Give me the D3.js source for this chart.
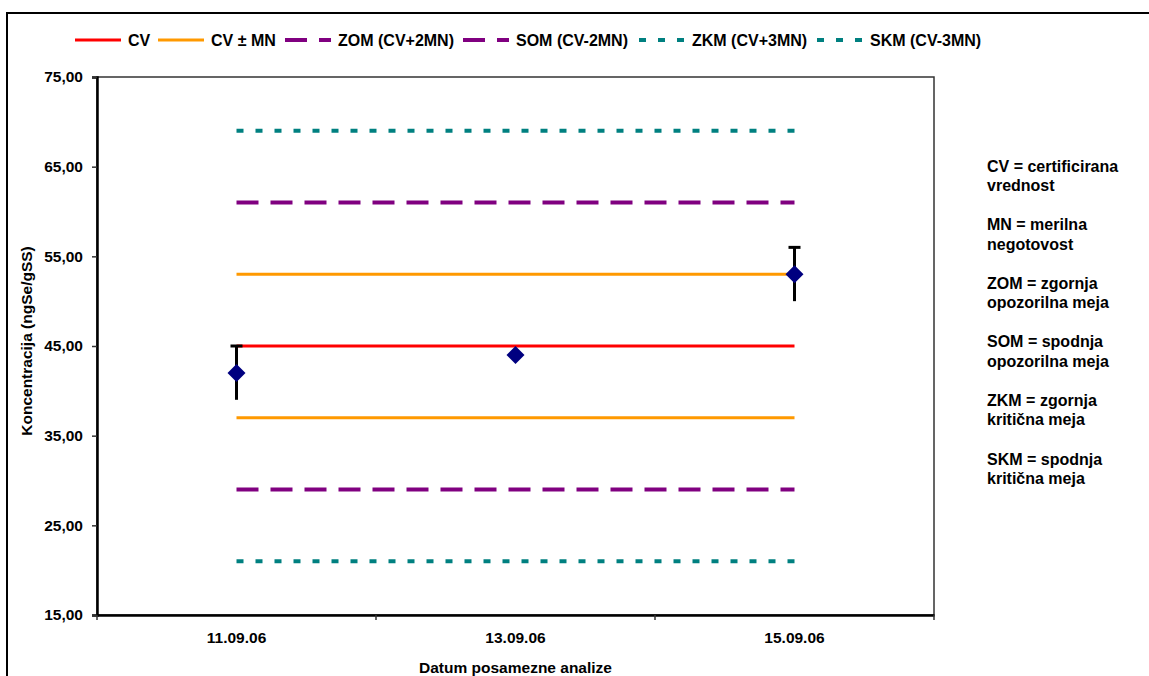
<!DOCTYPE html>
<html>
<head>
<meta charset="utf-8">
<script src="https://cdn.jsdelivr.net/npm/d3@7"></script>
<style>
  body { margin: 0; background: #fff; }
  text { font-family: "Liberation Sans", Arial, sans-serif; font-weight: bold; }
</style>
</head>
<body>
<div id="chart"></div>
<script>
// categories and measured values
const dates = ["11.09.06", "13.09.06", "15.09.06"];
const measured = [42, 44, 53];
const errors = [3, 0, 3];

// control limits per date
const cvLine = [45, 45, 45];
const cvPlusMn = [53, 53, 53];
const cvMinusMn = [37, 37, 37];
const zomLine = [61, 61, 61];
const somLine = [29, 29, 29];
const zkmLine = [69, 69, 69];
const skmLine = [21, 21, 21];

const yTicks = [15, 25, 35, 45, 55, 65, 75];

const notes = [
  ["CV = certificirana", "vrednost"],
  ["MN = merilna", "negotovost"],
  ["ZOM = zgornja", "opozorilna meja"],
  ["SOM = spodnja", "opozorilna meja"],
  ["ZKM = zgornja", "kritična meja"],
  ["SKM = spodnja", "kritična meja"]
];

// line styles
const styles = {
  cv:   { color: "#ff0000", width: 3, dash: null },
  mn:   { color: "#ff9900", width: 3, dash: null },
  om:   { color: "#800080", width: 4, dash: "22,12" },
  km:   { color: "#008080", width: 4, dash: "7,12" }
};

const series = [
  { values: cvLine, style: "cv" },
  { values: cvPlusMn, style: "mn" },
  { values: cvMinusMn, style: "mn" },
  { values: zomLine, style: "om" },
  { values: somLine, style: "om" },
  { values: zkmLine, style: "km" },
  { values: skmLine, style: "km" }
];

const legendItems = [
  { label: "CV", style: "cv" },
  { label: "CV ± MN", style: "mn" },
  { label: "ZOM (CV+2MN)", style: "om" },
  { label: "SOM (CV-2MN)", style: "om" },
  { label: "ZKM (CV+3MN)", style: "km" },
  { label: "SKM (CV-3MN)", style: "km" }
];
// where each legend sample starts
const legendX = [75, 158, 285, 463, 639, 817];

const W = 1149, H = 676;
const pLeft = 97, pRight = 934, pTop = 77, pBottom = 615;

const svg = d3.select("#chart").append("svg")
  .attr("width", W).attr("height", H);

// outer chart frame (runs off the right and bottom)
svg.append("rect")
  .attr("x", 7).attr("y", 13)
  .attr("width", 1200).attr("height", 700)
  .attr("fill", "#fff").attr("stroke", "#000").attr("stroke-width", 2);

const x = d3.scaleBand().domain(dates).range([pLeft, pRight]);
const cx = d => x(d) + x.bandwidth() / 2;
const y = d3.scaleLinear().domain([15, 75]).range([pBottom, pTop]);

// plot area border
svg.append("rect")
  .attr("x", pLeft).attr("y", pTop)
  .attr("width", pRight - pLeft).attr("height", pBottom - pTop)
  .attr("fill", "none").attr("stroke", "#333").attr("stroke-width", 1.5);

// y axis
const yAxis = svg.append("g")
  .attr("transform", `translate(${pLeft},0)`)
  .call(d3.axisLeft(y).tickValues(yTicks).tickSize(5).tickPadding(9)
    .tickFormat(d => d.toFixed(2).replace(".", ",")));
yAxis.select(".domain").attr("stroke", "#000").attr("stroke-width", 2.5);
yAxis.selectAll(".tick line").attr("stroke", "#333").attr("stroke-width", 1.5);
yAxis.selectAll("text").attr("font-size", 15.5).attr("fill", "#000")
  .style("font-family", "'Liberation Sans', Arial, sans-serif").style("font-weight", "bold");

// x axis
const xAxis = svg.append("g")
  .attr("transform", `translate(0,${pBottom})`)
  .call(d3.axisBottom(x).tickSize(0).tickPadding(17));
xAxis.select(".domain").attr("stroke", "#000").attr("stroke-width", 2.5);
xAxis.selectAll("text").attr("font-size", 15.5).attr("fill", "#000")
  .style("font-family", "'Liberation Sans', Arial, sans-serif").style("font-weight", "bold");

// tick marks between categories
const bounds = dates.map(d => x(d)).concat([x(dates[dates.length - 1]) + x.bandwidth()]);
svg.append("g").selectAll("line").data(bounds).enter().append("line")
  .attr("x1", d => d).attr("x2", d => d)
  .attr("y1", pBottom).attr("y2", pBottom + 5)
  .attr("stroke", "#333").attr("stroke-width", 1.5);

// axis titles
svg.append("text")
  .attr("transform", `translate(32,341) rotate(-90)`)
  .attr("text-anchor", "middle").attr("font-size", 15.5)
  .text("Koncentracija (ngSe/gSS)");
svg.append("text")
  .attr("x", (pLeft + pRight) / 2).attr("y", 673)
  .attr("text-anchor", "middle").attr("font-size", 15.5)
  .text("Datum posamezne analize");

// limit lines
const line = d3.line().x((v, i) => cx(dates[i])).y(v => y(v));
svg.append("g").selectAll("path").data(series).enter().append("path")
  .attr("d", s => line(s.values))
  .attr("fill", "none")
  .attr("stroke", s => styles[s.style].color)
  .attr("stroke-width", s => styles[s.style].width)
  .attr("stroke-dasharray", s => styles[s.style].dash);

// error bars (upper cap only, like the original)
const pts = dates.map((d, i) => ({ date: d, v: measured[i], e: errors[i] }));
const eb = svg.append("g");
eb.selectAll("line.bar").data(pts.filter(p => p.e > 0)).enter().append("line")
  .attr("x1", p => cx(p.date)).attr("x2", p => cx(p.date))
  .attr("y1", p => y(p.v - p.e)).attr("y2", p => y(p.v + p.e))
  .attr("stroke", "#000").attr("stroke-width", 3);
eb.selectAll("line.cap").data(pts.filter(p => p.e > 0)).enter().append("line")
  .attr("x1", p => cx(p.date) - 6).attr("x2", p => cx(p.date) + 6)
  .attr("y1", p => y(p.v + p.e)).attr("y2", p => y(p.v + p.e))
  .attr("stroke", "#000").attr("stroke-width", 3);

// diamond markers
svg.append("g").selectAll("path").data(pts).enter().append("path")
  .attr("transform", p => `translate(${cx(p.date)},${y(p.v)})`)
  .attr("d", "M0,-9L9,0L0,9L-9,0Z")
  .attr("fill", "#000080");

// legend
const lg = svg.append("g");
const ly = 40;
legendItems.forEach((item, i) => {
  const st = styles[item.style];
  const lx = legendX[i];
  lg.append("line")
    .attr("x1", lx).attr("x2", lx + 46)
    .attr("y1", ly).attr("y2", ly)
    .attr("stroke", st.color).attr("stroke-width", st.width)
    .attr("stroke-dasharray", st.dash);
  lg.append("text")
    .attr("x", lx + 53).attr("y", ly + 5.5)
    .attr("font-size", 16).text(item.label);
});

// explanatory notes on the right
const ng = svg.append("g");
notes.forEach((n, i) => {
  n.forEach((s, j) => {
    ng.append("text")
      .attr("x", 987).attr("y", 171.5 + i * 58.6 + j * 19.5)
      .attr("font-size", 16).text(s);
  });
});
</script>
</body>
</html>
